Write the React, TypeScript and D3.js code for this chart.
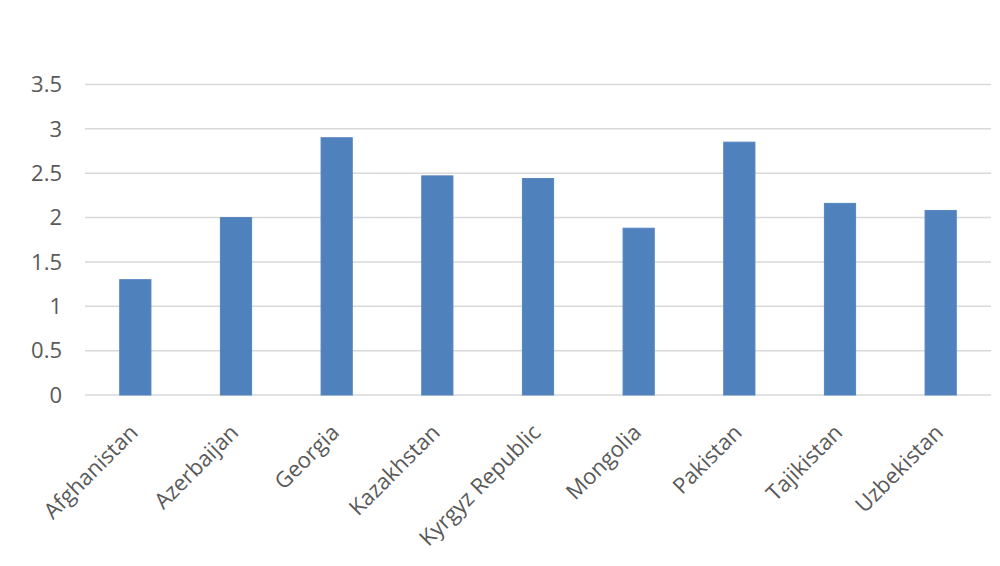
import React from "react";
import * as d3 from "d3";

const categories = [
  "Afghanistan",
  "Azerbaijan",
  "Georgia",
  "Kazakhstan",
  "Kyrgyz Republic",
  "Mongolia",
  "Pakistan",
  "Tajikistan",
  "Uzbekistan",
];
const values = [1.3, 2.0, 2.9, 2.47, 2.44, 1.88, 2.85, 2.16, 2.08];
const yTicks = [0, 0.5, 1, 1.5, 2, 2.5, 3, 3.5];

const W = 1000;
const H = 566;
const left = 85;
const right = 991;
const top = 84.5;
const bottom = 395;

export default function App() {
  const x = d3
    .scaleBand<string>()
    .domain(categories)
    .range([left, right])
    .paddingInner(0.69)
    .paddingOuter(0.345);
  const y = d3.scaleLinear().domain([0, 3.5]).range([bottom, top]);
  const font = "'Open Sans', sans-serif";
  return (
    <svg
      width={W}
      height={H}
      style={{ position: "absolute", left: 0, top: 0, background: "#fff" }}
    >
      <rect width={W} height={H} fill="#fff" />
      {yTicks.map((t) => (
        <g key={t}>
          <line
            x1={left}
            x2={right}
            y1={y(t)}
            y2={y(t)}
            stroke="#d9d9d9"
            strokeWidth={1.5}
          />
          <text
            x={62}
            y={y(t)}
            dy="0.35em"
            textAnchor="end"
            fontFamily={font}
            fontSize={22}
            fill="#595959"
          >
            {String(t)}
          </text>
        </g>
      ))}
      {categories.map((c, i) => (
        <rect
          key={c}
          x={x(c)!}
          y={y(values[i])}
          width={x.bandwidth()}
          height={y(0) - y(values[i])}
          fill="#4F81BD"
          stroke="#5585c0"
          strokeWidth={1}
        />
      ))}
      {categories.map((c) => {
        const cx = x(c)! + x.bandwidth() / 2;
        const ty = bottom + 28;
        return (
          <text
            key={c}
            transform={`translate(${cx - 7},${ty}) rotate(-45)`}
            textAnchor="end"
            dy="0.7em"
            fontFamily={font}
            fontSize={22}
            fill="#595959"
          >
            {c}
          </text>
        );
      })}
    </svg>
  );
}
